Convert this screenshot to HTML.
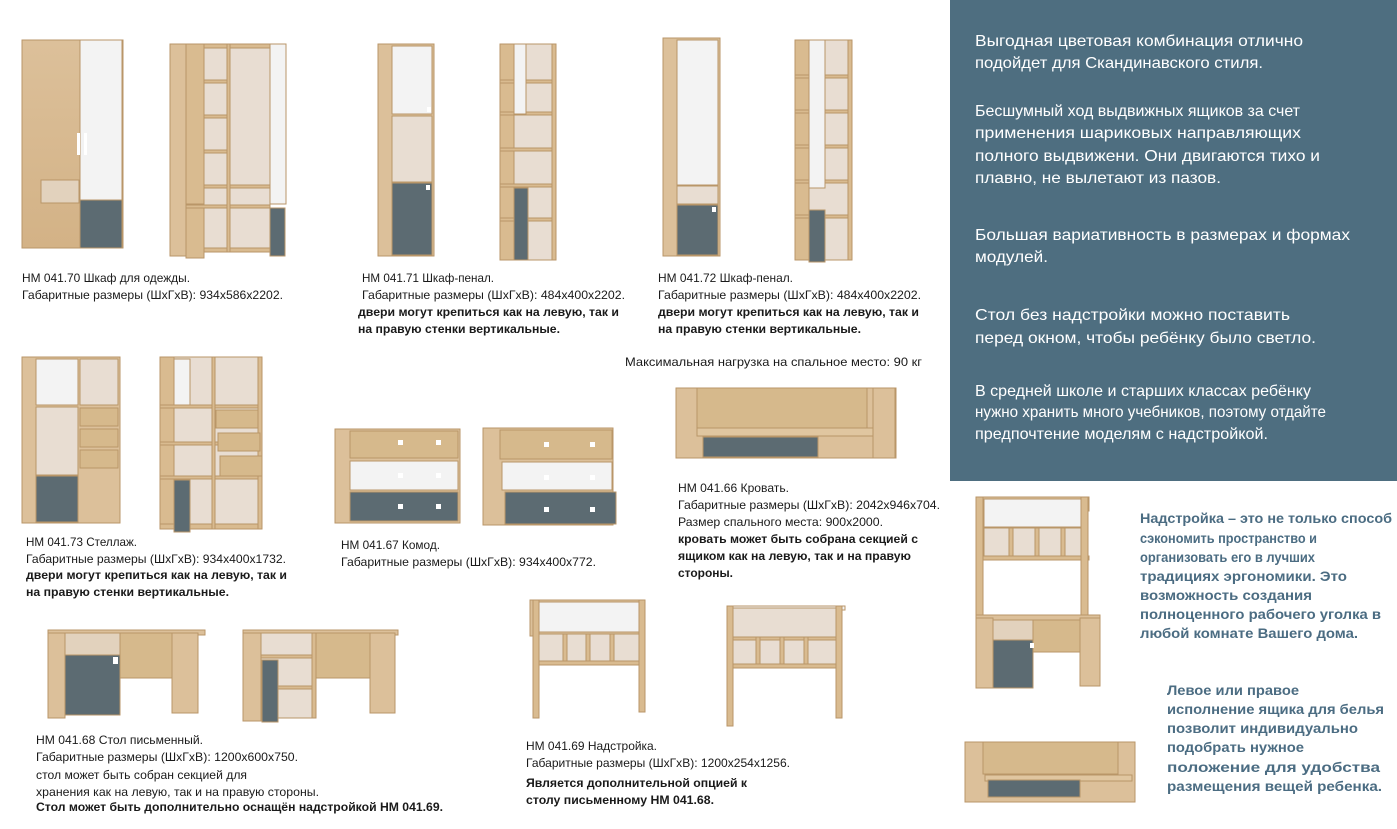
<!DOCTYPE html>
<html><head><meta charset="utf-8"><style>
html,body{margin:0;padding:0;background:#fff}
svg{display:block}
text{font-family:"Liberation Sans","Noto Sans CJK SC",sans-serif;font-size:12px;fill:#1a1a1a}
.b{font-weight:bold}
.p{fill:#fff;font-size:16px}
.q{fill:#4b6c82;font-weight:bold;font-size:14px}
</style></head><body>
<svg width="1397" height="829" viewBox="0 0 1397 829" xmlns="http://www.w3.org/2000/svg">
<defs>
<linearGradient id="w" x1="0" x2="0" y1="0" y2="1"><stop offset="0" stop-color="#dcc09a"/><stop offset="1" stop-color="#d3b286"/></linearGradient>
</defs>
<rect x="950" y="0" width="447" height="481" fill="#4e6e80"/>
<g fill="url(#w)" stroke="#b99668" stroke-width="1">
<!-- 1 wardrobe closed -->
<rect x="22" y="40" width="101" height="208"/>
</g>
<g stroke="#b99668" stroke-width="1">
<rect x="80" y="40" width="42" height="160" fill="#f3f3f3"/>
<rect x="80" y="200" width="42" height="48" fill="#5c6b72"/>
<rect x="41" y="180" width="38" height="23" fill="#e2d2bd"/>
<!-- 2 open wardrobe -->
<rect x="170" y="44" width="16" height="212" fill="#dcc09a"/>
<rect x="186" y="44" width="84" height="208" fill="#e8ddd2"/>
<g fill="#d9bb90"><rect x="186" y="44" width="84" height="4"/><rect x="186" y="80" width="42" height="3"/><rect x="186" y="115" width="42" height="3"/><rect x="186" y="150" width="42" height="3"/><rect x="186" y="185" width="84" height="3"/><rect x="186" y="205" width="84" height="3"/><rect x="186" y="248" width="84" height="4"/><rect x="227" y="44" width="3" height="208"/><rect x="186" y="44" width="18" height="160"/><rect x="186" y="208" width="18" height="50"/></g>
<rect x="270" y="44" width="16" height="160" fill="#f3f3f3"/>
<rect x="270" y="208" width="15" height="48" fill="#5c6b72"/>
<!-- 3 pencil closed -->
<rect x="378" y="44" width="56" height="212" fill="#dcc09a"/>
<rect x="392" y="46" width="40" height="68" fill="#f3f3f3"/>
<rect x="392" y="116" width="40" height="66" fill="#e8ddd2"/>
<rect x="392" y="183" width="40" height="72" fill="#5c6b72"/>
<!-- 4 pencil open -->
<rect x="500" y="44" width="56" height="216" fill="#e8ddd2"/>
<g fill="#d9bb90"><rect x="500" y="44" width="14" height="216"/><rect x="500" y="80" width="56" height="3"/><rect x="500" y="112" width="56" height="3"/><rect x="500" y="148" width="56" height="3"/><rect x="500" y="184" width="56" height="3"/><rect x="500" y="218" width="56" height="3"/><rect x="552" y="44" width="4" height="216"/></g>
<rect x="514" y="44" width="12" height="70" fill="#f3f3f3"/>
<rect x="514" y="188" width="14" height="72" fill="#5c6b72"/>
<!-- 5 pencil 072 closed -->
<rect x="663" y="38" width="57" height="218" fill="#dcc09a"/>
<rect x="677" y="40" width="41" height="145" fill="#f3f3f3"/>
<rect x="677" y="186" width="41" height="18" fill="#e8ddd2"/>
<rect x="677" y="205" width="41" height="50" fill="#5c6b72"/>
<!-- 6 open -->
<rect x="795" y="40" width="57" height="220" fill="#e8ddd2"/>
<g fill="#d9bb90"><rect x="795" y="40" width="14" height="220"/><rect x="795" y="75" width="57" height="3"/><rect x="795" y="110" width="57" height="3"/><rect x="795" y="145" width="57" height="3"/><rect x="795" y="180" width="57" height="3"/><rect x="795" y="215" width="57" height="3"/><rect x="848" y="40" width="4" height="220"/></g>
<rect x="809" y="40" width="16" height="148" fill="#f3f3f3"/>
<rect x="809" y="210" width="16" height="52" fill="#5c6b72"/>
<!-- 7 shelf 073 -->
<rect x="22" y="357" width="98" height="166" fill="#dcc09a"/>
<rect x="36" y="359" width="42" height="46" fill="#f3f3f3"/>
<rect x="80" y="359" width="38" height="46" fill="#e8ddd2"/>
<rect x="36" y="407" width="42" height="68" fill="#e8ddd2"/>
<rect x="80" y="408" width="38" height="18" fill="#d6b98c"/><rect x="80" y="429" width="38" height="18" fill="#d6b98c"/><rect x="80" y="450" width="38" height="18" fill="#d6b98c"/>
<rect x="36" y="476" width="42" height="46" fill="#5c6b72"/>
<!-- 8 shelf open -->
<rect x="160" y="357" width="102" height="172" fill="#e8ddd2"/>
<g fill="#d9bb90"><rect x="160" y="357" width="14" height="172"/><rect x="160" y="405" width="102" height="3"/><rect x="160" y="442" width="102" height="3"/><rect x="160" y="476" width="102" height="3"/><rect x="160" y="524" width="102" height="5"/><rect x="212" y="357" width="3" height="172"/><rect x="258" y="357" width="4" height="172"/></g>
<rect x="174" y="359" width="16" height="46" fill="#f3f3f3"/>
<rect x="216" y="410" width="42" height="18" fill="#d6b98c"/><rect x="218" y="433" width="42" height="18" fill="#d6b98c"/><rect x="220" y="456" width="42" height="20" fill="#d6b98c"/>
<rect x="174" y="480" width="16" height="52" fill="#5c6b72"/>
<!-- 9 commode -->
<rect x="335" y="429" width="125" height="94" fill="#dcc09a"/>
<rect x="350" y="431" width="108" height="27" fill="#d6b98c"/>
<rect x="350" y="461" width="108" height="29" fill="#f3f3f3"/>
<rect x="350" y="492" width="108" height="29" fill="#5c6b72"/>
<!-- 10 commode open -->
<rect x="483" y="428" width="130" height="97" fill="#dcc09a"/>
<rect x="500" y="430" width="112" height="29" fill="#d6b98c"/>
<rect x="502" y="462" width="110" height="28" fill="#f3f3f3"/>
<rect x="505" y="492" width="111" height="32" fill="#5c6b72"/>
<!-- 11 bed -->
<rect x="676" y="388" width="220" height="70" fill="#dcc09a"/>
<rect x="697" y="388" width="170" height="46" fill="#d6b98c"/>
<rect x="697" y="428" width="195" height="8" fill="#e0c6a0"/>
<rect x="703" y="437" width="115" height="20" fill="#5c6b72"/>
<rect x="873" y="388" width="22" height="70" fill="#dcc09a"/>
<!-- 12 desk -->
<rect x="48" y="630" width="157" height="5" fill="#dcc09a"/>
<rect x="48" y="633" width="17" height="85" fill="#dcc09a"/>
<rect x="65" y="633" width="55" height="22" fill="#e2d2bd"/>
<rect x="65" y="655" width="55" height="60" fill="#5c6b72"/>
<rect x="120" y="633" width="58" height="45" fill="#d6b98c"/>
<rect x="172" y="633" width="26" height="80" fill="#dcc09a"/>
<!-- 13 desk open -->
<rect x="243" y="630" width="155" height="5" fill="#dcc09a"/>
<rect x="243" y="633" width="18" height="88" fill="#dcc09a"/>
<rect x="261" y="633" width="55" height="85" fill="#e8ddd2"/>
<g fill="#d9bb90"><rect x="261" y="655" width="55" height="3"/><rect x="261" y="686" width="55" height="3"/><rect x="312" y="633" width="4" height="85"/></g>
<rect x="316" y="633" width="58" height="45" fill="#d6b98c"/>
<rect x="370" y="633" width="25" height="80" fill="#dcc09a"/>
<rect x="262" y="660" width="16" height="62" fill="#5c6b72"/>
<!-- 14 nadstroika -->
<rect x="530" y="600" width="115" height="36" fill="#dcc09a"/>
<rect x="538" y="602" width="105" height="30" fill="#f3f3f3"/>
<rect x="538" y="634" width="105" height="28" fill="#e8ddd2"/>
<g fill="#d9bb90"><rect x="563" y="634" width="4" height="28"/><rect x="586" y="634" width="4" height="28"/><rect x="610" y="634" width="4" height="28"/><rect x="533" y="661" width="110" height="4"/><rect x="533" y="600" width="6" height="118"/><rect x="639" y="600" width="6" height="112"/></g>
<!-- 15 nadstroika open -->
<rect x="727" y="606" width="118" height="4" fill="#f3f3f3"/>
<rect x="731" y="608" width="108" height="57" fill="#e8ddd2"/>
<g fill="#d9bb90"><rect x="731" y="637" width="108" height="3"/><rect x="756" y="637" width="4" height="28"/><rect x="780" y="637" width="4" height="28"/><rect x="804" y="637" width="4" height="28"/><rect x="731" y="664" width="108" height="4"/><rect x="727" y="606" width="6" height="120"/><rect x="836" y="606" width="6" height="112"/></g>
<!-- 16 right desk w/ top -->
<rect x="976" y="497" width="113" height="14" fill="#dcc09a"/>
<rect x="984" y="499" width="103" height="28" fill="#f3f3f3"/>
<rect x="984" y="528" width="103" height="28" fill="#e8ddd2"/>
<g fill="#d9bb90"><rect x="1009" y="528" width="4" height="28"/><rect x="1035" y="528" width="4" height="28"/><rect x="1061" y="528" width="4" height="28"/><rect x="976" y="556" width="113" height="4"/><rect x="976" y="497" width="7" height="190"/><rect x="1081" y="497" width="7" height="120"/></g>
<rect x="976" y="615" width="124" height="5" fill="#dcc09a"/>
<rect x="976" y="618" width="17" height="70" fill="#dcc09a"/>
<rect x="993" y="620" width="40" height="20" fill="#e2d2bd"/>
<rect x="993" y="640" width="40" height="48" fill="#5c6b72"/>
<rect x="1033" y="620" width="50" height="32" fill="#d6b98c"/>
<rect x="1080" y="618" width="20" height="68" fill="#dcc09a"/>
<!-- 17 right bed -->
<rect x="965" y="742" width="170" height="60" fill="#dcc09a"/>
<rect x="983" y="742" width="135" height="32" fill="#d6b98c"/>
<rect x="985" y="775" width="147" height="6" fill="#e0c6a0"/>
<rect x="988" y="780" width="92" height="17" fill="#5c6b72"/>
</g>
<g fill="#fff">
<rect x="77" y="133" width="3" height="22"/><rect x="84" y="133" width="3" height="22"/>
<rect x="427" y="107" width="4" height="5"/><rect x="426" y="185" width="4" height="5"/>
<rect x="712" y="207" width="4" height="5"/>
<rect x="398" y="440" width="5" height="5"/><rect x="436" y="440" width="5" height="5"/>
<rect x="398" y="473" width="5" height="5"/><rect x="436" y="473" width="5" height="5"/>
<rect x="398" y="504" width="5" height="5"/><rect x="436" y="504" width="5" height="5"/>
<rect x="544" y="442" width="5" height="5"/><rect x="590" y="442" width="5" height="5"/>
<rect x="544" y="475" width="5" height="5"/><rect x="590" y="475" width="5" height="5"/>
<rect x="544" y="507" width="5" height="5"/><rect x="590" y="507" width="5" height="5"/>
<rect x="113" y="657" width="5" height="7"/>
<rect x="1030" y="643" width="4" height="5"/>
</g>
<!-- texts -->
<text x="22" y="282" textLength="168" lengthAdjust="spacingAndGlyphs">НМ 041.70 Шкаф для одежды.</text>
<text x="22" y="299" textLength="261" lengthAdjust="spacingAndGlyphs">Габаритные размеры (ШхГхВ): 934x586x2202.</text>
<text x="362" y="282" textLength="132" lengthAdjust="spacingAndGlyphs">НМ 041.71 Шкаф-пенал.</text>
<text x="362" y="299" textLength="263" lengthAdjust="spacingAndGlyphs">Габаритные размеры (ШхГхВ): 484x400x2202.</text>
<text class="b" x="358" y="316" textLength="261" lengthAdjust="spacingAndGlyphs">двери могут крепиться как на левую, так и</text>
<text class="b" x="358" y="333" textLength="202" lengthAdjust="spacingAndGlyphs">на правую стенки вертикальные.</text>
<text x="658" y="282" textLength="135" lengthAdjust="spacingAndGlyphs">НМ 041.72 Шкаф-пенал.</text>
<text x="658" y="299" textLength="263" lengthAdjust="spacingAndGlyphs">Габаритные размеры (ШхГхВ): 484x400x2202.</text>
<text class="b" x="658" y="316" textLength="261" lengthAdjust="spacingAndGlyphs">двери могут крепиться как на левую, так и</text>
<text class="b" x="658" y="333" textLength="203" lengthAdjust="spacingAndGlyphs">на правую стенки вертикальные.</text>
<text x="625" y="366" textLength="297" lengthAdjust="spacingAndGlyphs">Максимальная нагрузка на спальное место: 90 кг</text>
<text x="26" y="546" textLength="111" lengthAdjust="spacingAndGlyphs">НМ 041.73 Стеллаж.</text>
<text x="26" y="563" textLength="260" lengthAdjust="spacingAndGlyphs">Габаритные размеры (ШхГхВ): 934x400x1732.</text>
<text class="b" x="26" y="579" textLength="261" lengthAdjust="spacingAndGlyphs">двери могут крепиться как на левую, так и</text>
<text class="b" x="26" y="596" textLength="203" lengthAdjust="spacingAndGlyphs">на правую стенки вертикальные.</text>
<text x="341" y="549" textLength="99" lengthAdjust="spacingAndGlyphs">НМ 041.67 Комод.</text>
<text x="341" y="566" textLength="255" lengthAdjust="spacingAndGlyphs">Габаритные размеры (ШхГхВ): 934x400x772.</text>
<text x="678" y="492" textLength="111" lengthAdjust="spacingAndGlyphs">НМ 041.66 Кровать.</text>
<text x="678" y="509" textLength="262" lengthAdjust="spacingAndGlyphs">Габаритные размеры (ШхГхВ): 2042x946x704.</text>
<text x="678" y="526" textLength="205" lengthAdjust="spacingAndGlyphs">Размер спального места: 900x2000.</text>
<text class="b" x="678" y="543" textLength="240" lengthAdjust="spacingAndGlyphs">кровать может быть собрана секцией с</text>
<text class="b" x="678" y="560" textLength="233" lengthAdjust="spacingAndGlyphs">ящиком как на левую, так и на правую</text>
<text class="b" x="678" y="577" textLength="55" lengthAdjust="spacingAndGlyphs">стороны.</text>
<text x="36" y="744" textLength="167" lengthAdjust="spacingAndGlyphs">НМ 041.68 Стол письменный.</text>
<text x="36" y="761" textLength="262" lengthAdjust="spacingAndGlyphs">Габаритные размеры (ШхГхВ): 1200x600x750.</text>
<text x="36" y="779" textLength="211" lengthAdjust="spacingAndGlyphs">стол может быть собран секцией для</text>
<text x="36" y="796" textLength="283" lengthAdjust="spacingAndGlyphs">хранения как на левую, так и на правую стороны.</text>
<text class="b" x="36" y="811" textLength="407" lengthAdjust="spacingAndGlyphs">Стол может быть дополнительно оснащён надстройкой НМ 041.69.</text>
<text x="526" y="750" textLength="131" lengthAdjust="spacingAndGlyphs">НМ 041.69 Надстройка.</text>
<text x="526" y="767" textLength="264" lengthAdjust="spacingAndGlyphs">Габаритные размеры (ШхГхВ): 1200x254x1256.</text>
<text class="b" x="526" y="787" textLength="221" lengthAdjust="spacingAndGlyphs">Является дополнительной опцией к</text>
<text class="b" x="526" y="804" textLength="188" lengthAdjust="spacingAndGlyphs">столу письменному НМ 041.68.</text>
<g class="p">
<text class="p" x="975" y="46" textLength="328" lengthAdjust="spacingAndGlyphs">Выгодная цветовая комбинация отлично</text>
<text class="p" x="975" y="68" textLength="288" lengthAdjust="spacingAndGlyphs">подойдет для Скандинавского стиля.</text>
<text class="p" x="975" y="116" textLength="325" lengthAdjust="spacingAndGlyphs">Бесшумный ход выдвижных ящиков за счет</text>
<text class="p" x="975" y="138" textLength="326" lengthAdjust="spacingAndGlyphs">применения шариковых направляющих</text>
<text class="p" x="975" y="161" textLength="345" lengthAdjust="spacingAndGlyphs">полного выдвижени. Они двигаются тихо и</text>
<text class="p" x="975" y="183" textLength="246" lengthAdjust="spacingAndGlyphs">плавно, не вылетают из пазов.</text>
<text class="p" x="975" y="240" textLength="375" lengthAdjust="spacingAndGlyphs">Большая вариативность в размерах и формах</text>
<text class="p" x="975" y="262" textLength="73" lengthAdjust="spacingAndGlyphs">модулей.</text>
<text class="p" x="975" y="320" textLength="315" lengthAdjust="spacingAndGlyphs">Стол без надстройки можно поставить</text>
<text class="p" x="975" y="343" textLength="341" lengthAdjust="spacingAndGlyphs">перед окном, чтобы ребёнку было светло.</text>
<text class="p" x="975" y="396" textLength="336" lengthAdjust="spacingAndGlyphs">В средней школе и старших классах ребёнку</text>
<text class="p" x="975" y="417" textLength="351" lengthAdjust="spacingAndGlyphs">нужно хранить много учебников, поэтому отдайте</text>
<text class="p" x="975" y="439" textLength="293" lengthAdjust="spacingAndGlyphs">предпочтение моделям с надстройкой.</text>
</g>
<text class="q" x="1140" y="523" textLength="252" lengthAdjust="spacingAndGlyphs">Надстройка – это не только способ</text>
<text class="q" x="1140" y="543" textLength="177" lengthAdjust="spacingAndGlyphs">сэкономить пространство и</text>
<text class="q" x="1140" y="562" textLength="175" lengthAdjust="spacingAndGlyphs">организовать его в лучших</text>
<text class="q" x="1140" y="581" textLength="207" lengthAdjust="spacingAndGlyphs">традициях эргономики. Это</text>
<text class="q" x="1140" y="600" textLength="172" lengthAdjust="spacingAndGlyphs">возможность создания</text>
<text class="q" x="1140" y="619" textLength="241" lengthAdjust="spacingAndGlyphs">полноценного рабочего уголка в</text>
<text class="q" x="1140" y="638" textLength="218" lengthAdjust="spacingAndGlyphs">любой комнате Вашего дома.</text>
<text class="q" x="1167" y="695" textLength="132" lengthAdjust="spacingAndGlyphs">Левое или правое</text>
<text class="q" x="1167" y="714" textLength="217" lengthAdjust="spacingAndGlyphs">исполнение ящика для белья</text>
<text class="q" x="1167" y="733" textLength="191" lengthAdjust="spacingAndGlyphs">позволит индивидуально</text>
<text class="q" x="1167" y="752" textLength="137" lengthAdjust="spacingAndGlyphs">подобрать нужное</text>
<text class="q" x="1167" y="772" textLength="213" lengthAdjust="spacingAndGlyphs">положение для удобства</text>
<text class="q" x="1167" y="791" textLength="215" lengthAdjust="spacingAndGlyphs">размещения вещей ребенка.</text>
</svg>
</body></html>
